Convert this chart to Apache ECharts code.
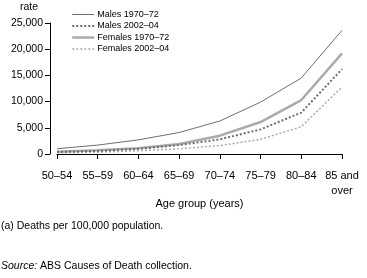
<!DOCTYPE html>
<html>
<head>
<meta charset="utf-8">
<script src="https://cdn.jsdelivr.net/npm/echarts@6/dist/echarts.min.js"></script>
<style>
  html, body { margin: 0; padding: 0; background: #fff; }
  #chart { width: 367px; height: 278px; }
</style>
</head>
<body>
<div id="chart"></div>
<script>
var ageGroups = ['50–54', '55–59', '60–64', '65–69', '70–74', '75–79', '80–84', '85 and\nover'];
var males1970 = [1000, 1700, 2700, 4100, 6300, 9900, 14500, 23600];
var males2002 = [400, 600, 1000, 1700, 2800, 4700, 7900, 16200];
var females1970 = [450, 700, 1100, 1900, 3500, 6100, 10300, 19200];
var females2002 = [250, 350, 600, 1000, 1600, 2800, 5200, 12800];
var seriesNames = ['Males 1970–72', 'Males 2002–04', 'Females 1970–72', 'Females 2002–04'];

var font = 'Liberation Sans, Arial, sans-serif';

// line looks per series, shared by the series and its legend entry
var looks = [
    { color: '#6e6e6e', width: 1, type: 'solid' },
    { color: '#6e6e6e', width: 2, type: [2, 2] },
    { color: '#ababab', width: 2.5, type: 'solid' },
    { color: '#ababab', width: 1.5, type: [2, 2] }
];
var values = [males1970, males2002, females1970, females2002];

var chart = echarts.init(document.getElementById('chart'));
chart.setOption({
    animation: false,
    backgroundColor: '#fff',
    textStyle: { fontFamily: font, color: '#000' },
    grid: { left: 57, right: 25, top: 23, bottom: 124, containLabel: false },
    legend: {
        orient: 'vertical',
        left: 66,
        top: 5,
        itemWidth: 22,
        itemHeight: 10,
        itemGap: 2.5,
        data: seriesNames.map(function (n, i) {
            return { name: n, lineStyle: { width: looks[i].width, color: looks[i].color, type: looks[i].type } };
        }),
        itemStyle: { opacity: 0 },
        textStyle: { fontSize: 9, color: '#000', fontFamily: font, padding: [0, 0, 0, -2] }
    },
    xAxis: {
        type: 'category',
        data: ageGroups,
        boundaryGap: false,
        offset: 9,
        axisLine: { lineStyle: { color: '#000', width: 1 } },
        axisTick: { alignWithLabel: true, length: 5, lineStyle: { color: '#000' } },
        axisLabel: { color: '#000', fontSize: 11, margin: 5, lineHeight: 15, interval: 0, fontFamily: font },
        name: 'Age group (years)',
        nameLocation: 'middle',
        nameGap: 33,
        nameTextStyle: { fontSize: 11, color: '#000', fontFamily: font }
    },
    yAxis: {
        type: 'value',
        min: 0,
        max: 25000,
        interval: 5000,
        offset: 7,
        splitLine: { show: false },
        axisLine: { show: true, lineStyle: { color: '#000', width: 1 } },
        axisTick: { show: true, length: 5, lineStyle: { color: '#000' } },
        axisLabel: {
            color: '#000', fontSize: 10.5, margin: 7, fontFamily: font,
            formatter: function (v) { return v.toString().replace(/\B(?=(\d{3})+(?!\d))/g, ','); }
        }
    },
    graphic: [
        { type: 'text', left: 20, top: 2, style: { text: 'rate', fontSize: 10.5, fill: '#000', fontFamily: font } },
        { type: 'text', left: 1, top: 221, style: { text: '(a) Deaths per 100,000 population.', fontSize: 10.5, fill: '#000', fontFamily: font } },
        {
            type: 'text', left: 1, top: 261,
            style: {
                text: '{i|Source:} ABS Causes of Death collection.',
                fontSize: 10.5, fill: '#000', fontFamily: font,
                rich: { i: { fontStyle: 'italic', fontSize: 10.5, fontFamily: font } }
            }
        }
    ],
    series: seriesNames.map(function (n, i) {
        return {
            name: n, type: 'line', data: values[i], symbol: 'none', z: 4 - i,
            lineStyle: { color: looks[i].color, width: looks[i].width, type: looks[i].type },
            itemStyle: { color: looks[i].color }
        };
    })
});
</script>
</body>
</html>
